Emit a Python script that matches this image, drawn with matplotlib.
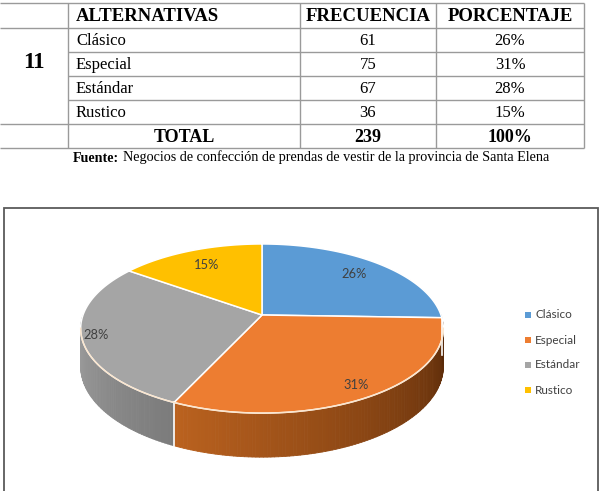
import numpy as np
import matplotlib.pyplot as plt
from matplotlib.patches import Polygon
from matplotlib.collections import PolyCollection
from matplotlib.colors import to_rgb

# datos de la tabla / grafico
pregunta = "11"
encabezados = ["ALTERNATIVAS", "FRECUENCIA", "PORCENTAJE"]
alternativas = ["Clásico", "Especial", "Estándar", "Rustico"]
frecuencia = [61, 75, 67, 36]
porcentaje = ["26%", "31%", "28%", "15%"]
total_frec = "239"
total_pct = "100%"
fuente = "Negocios de confección de prendas de vestir de la provincia de Santa Elena"

colores = ["#5B9BD5", "#ED7D31", "#A5A5A5", "#FFC000"]
# color del canto (claro -> oscuro, de izquierda a derecha)
cantos = [("#41719c", "#2b4f70"), ("#bb621f", "#562808"),
          ("#a2a2a2", "#7b7b7b"), ("#bf9000", "#8a6800")]

fig = plt.figure(figsize=(6.05, 4.91), dpi=100)
ax = fig.add_axes([0, 0, 1, 1])
ax.set_xlim(0, 605)
ax.set_ylim(491, 0)
ax.axis("off")

# ---------------- tabla ----------------
serif = "Liberation Serif"
gris = "#9a9a9a"
xcol = [0, 68, 300, 436, 584]
yfil = [3, 28, 52, 76, 100, 124, 148]

ax.hlines([yfil[0], yfil[1], yfil[5], yfil[6]], 0, xcol[-1], color=gris, lw=1)
ax.hlines(yfil[2:5], xcol[1], xcol[-1], color=gris, lw=1)
for x in xcol[1:]:
    ax.vlines(x, yfil[0], yfil[-1], color=gris, lw=1)

for i, h in enumerate(encabezados):
    if i == 0:
        ax.text(xcol[1] + 8, (yfil[0] + yfil[1]) / 2 + 1, h, family=serif,
                weight="bold", fontsize=13.5, ha="left", va="center")
    else:
        ax.text((xcol[i + 1] + xcol[i + 2]) / 2, (yfil[0] + yfil[1]) / 2 + 1, h,
                family=serif, weight="bold", fontsize=13.5, ha="center", va="center")

for j in range(len(alternativas)):
    yc = (yfil[j + 1] + yfil[j + 2]) / 2 + 1
    ax.text(xcol[1] + 8, yc, alternativas[j], family=serif, fontsize=12,
            ha="left", va="center")
    ax.text((xcol[2] + xcol[3]) / 2, yc, str(frecuencia[j]), family=serif,
            fontsize=12, ha="center", va="center")
    ax.text((xcol[3] + xcol[4]) / 2, yc, porcentaje[j], family=serif,
            fontsize=12, ha="center", va="center")

ax.text(xcol[1] / 2, 62, pregunta, family=serif, weight="bold", fontsize=16.5,
        ha="center", va="center")
yt = (yfil[5] + yfil[6]) / 2 + 1
for xt, s in [((xcol[1] + xcol[2]) / 2, "TOTAL"),
              ((xcol[2] + xcol[3]) / 2, total_frec),
              ((xcol[3] + xcol[4]) / 2, total_pct)]:
    ax.text(xt, yt, s, family=serif, weight="bold", fontsize=13,
            ha="center", va="center")

# linea de fuente, centrada
t1 = ax.text(0, 158, "Fuente:", family=serif, weight="bold", fontsize=10.2,
             ha="left", va="center")
t2 = ax.annotate(fuente, xy=(1, 0), xycoords=t1, xytext=(2.5, 0),
                 textcoords="offset points", family=serif, fontsize=10.2,
                 ha="left", va="bottom")
fig.canvas.draw()
r = fig.canvas.get_renderer()
b1 = t1.get_window_extent(r)
b2 = t2.get_window_extent(r)
ancho = (b2.x1 - b1.x0) * 605 / fig.bbox.width
t1.set_x(311 - ancho / 2)

# ---------------- marco del grafico ----------------
ax.plot([4, 4, 598, 598], [495, 208, 208, 495], color="#5a5a5a", lw=1.3,
        solid_joinstyle="miter")

# ---------------- pastel 3D ----------------
cx, cy = 262, 315      # punto central
A, B = 179, 82.4       # semiejes
k = 0.16               # perspectiva
D = 37                 # grosor


def proyectar(th):
    x, z = np.cos(th), np.sin(th)
    d = 1 + k * z
    return cx + A * x / d, cy - B * z / d, D / d


vals = np.array(frecuencia, dtype=float)
angs = vals / vals.sum() * 2 * np.pi
ini = np.pi / 2 - np.concatenate([[0], np.cumsum(angs)[:-1]])
fin = ini - angs

# canto frontal (de 180 a 360 grados)
for i in range(len(vals)):
    a0m = fin[i] % (2 * np.pi)
    a1m = a0m + angs[i]
    lo, hi = max(a0m, np.pi), min(a1m, 2 * np.pi)
    if hi <= lo:
        continue
    th = np.linspace(lo, hi, max(int(np.degrees(hi - lo)), 2) + 1)
    X, Y, H = proyectar(th)
    c0, c1 = np.array(to_rgb(cantos[i][0])), np.array(to_rgb(cantos[i][1]))
    quads, cols = [], []
    for n in range(len(th) - 1):
        quads.append([(X[n], Y[n]), (X[n + 1], Y[n + 1]),
                      (X[n + 1], Y[n + 1] + H[n + 1]), (X[n], Y[n] + H[n])])
        t = (n + 0.5) / (len(th) - 1)
        cols.append(c0 * (1 - t) + c1 * t)
    ax.add_collection(PolyCollection(quads, facecolors=cols, edgecolors=cols,
                                     linewidths=0.6))
    # linea blanca entre cantos
    if np.pi < lo < 2 * np.pi:
        ax.plot([X[0], X[0]], [Y[0], Y[0] + H[0]], color="white", lw=1.2)

# cara superior
for i in range(len(vals)):
    th = np.linspace(ini[i], fin[i], 200)
    X, Y, _ = proyectar(th)
    pts = np.column_stack([np.r_[cx, X], np.r_[cy, Y]])
    ax.add_patch(Polygon(pts, closed=True, facecolor=colores[i],
                         edgecolor="white", lw=1.1, joinstyle="round"))

# brillo del borde frontal
th = np.linspace(np.pi * 1.05, np.pi * 1.95, 200)
X, Y, _ = proyectar(th)
ax.plot(X, Y, color="#fbe3c8", lw=1.0, alpha=0.9)

# etiquetas de porcentaje
radios = [0.78, 0.88, 0.92, 0.75]
for i in range(len(vals)):
    m = (ini[i] + fin[i]) / 2
    x, z = radios[i] * np.cos(m), radios[i] * np.sin(m)
    d = 1 + k * z
    ax.text(cx + A * x / d, cy - B * z / d, porcentaje[i], family="Lato",
            fontsize=9.3, color="#404040", ha="center", va="center")

# leyenda
for i, nom in enumerate(alternativas):
    yl = 315 + 25 * i
    ax.scatter([528], [yl], marker="s", s=14, color=colores[i], linewidths=0)
    ax.text(535, yl, nom, family="Lato", fontsize=8.5, color="#404040",
            ha="left", va="center")

fig.savefig("out.png", dpi=100)
